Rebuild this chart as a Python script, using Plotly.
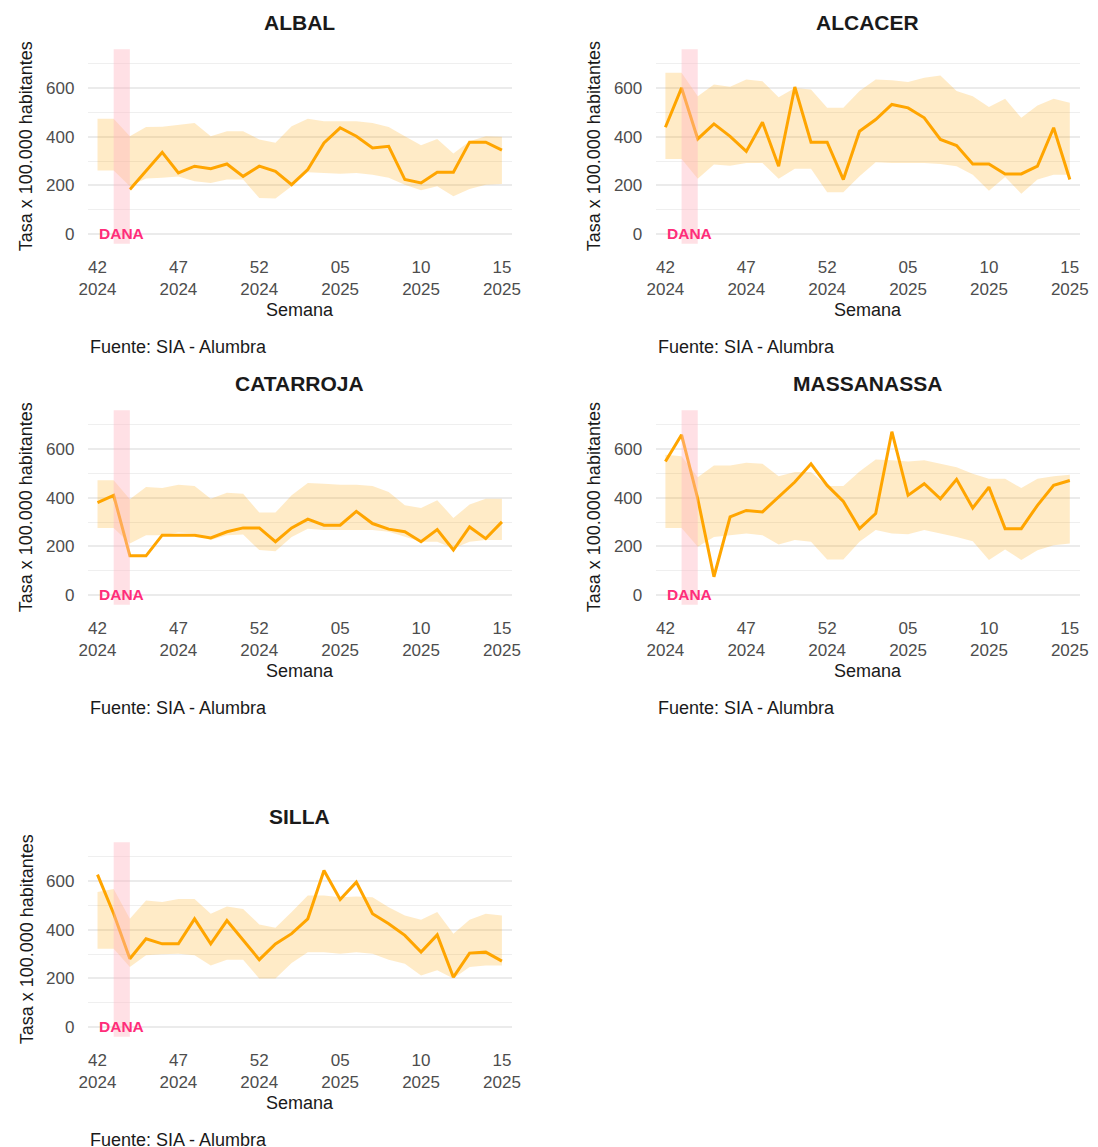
import plotly.graph_objects as go

# Semanas epidemiológicas (eje x)
semanas = ["42", "43", "44", "45", "46", "47", "48", "49", "50", "51", "52",
           "01", "02", "03", "04", "05", "06", "07", "08", "09", "10",
           "11", "12", "13", "14", "15"]
anios = ["2024"] * 11 + ["2025"] * 15
tick_idx = [0, 5, 10, 15, 20, 25]

municipios = ["ALBAL", "ALCACER", "CATARROJA", "MASSANASSA", "SILLA"]

# Tasa x 100.000 habitantes y banda (límite inferior / superior)
albal_tasa = [None, None, 183, 260, 336, 251, 279, 269, 288, 237, 279, 258, 203,
              265, 375, 437, 402, 354, 361, 224, 210, 254, 254, 378, 378, 345]
albal_sup = [474, 474, 402, 440, 441, 450, 457, 402, 423, 423, 389, 375, 443,
             474, 464, 464, 464, 457, 440, 402, 365, 391, 331, 382, 402, 400]
albal_inf = [261, 261, 196, 228, 231, 237, 217, 210, 224, 224, 148, 146, 196,
             254, 251, 248, 251, 244, 231, 203, 180, 196, 155, 185, 203, 206]

alcacer_tasa = [439, 601, 391, 453, 402, 340, 460, 279, 605, 378, 378, 224, 423,
                471, 533, 519, 478, 389, 364, 288, 288, 247, 247, 279, 437, 224]
alcacer_sup = [663, 663, 567, 615, 606, 636, 629, 563, 601, 595, 519, 519, 588,
               636, 633, 625, 643, 652, 588, 567, 523, 556, 478, 529, 556, 540]
alcacer_inf = [309, 309, 227, 286, 281, 292, 292, 227, 268, 268, 172, 172, 238,
               295, 292, 292, 292, 288, 279, 244, 178, 235, 166, 224, 244, 244]

catarroja_tasa = [380, 410, 161, 161, 246, 246, 246, 235, 260, 276, 276, 219, 276,
                  312, 287, 287, 344, 294, 271, 260, 219, 269, 185, 280, 232, 301]
catarroja_sup = [472, 472, 394, 444, 440, 454, 448, 396, 421, 417, 339, 339, 410,
                 461, 458, 454, 454, 448, 424, 369, 358, 390, 317, 372, 396, 396]
catarroja_inf = [276, 276, 212, 246, 246, 257, 253, 226, 246, 249, 185, 180, 239,
                 273, 267, 267, 267, 267, 260, 239, 219, 219, 191, 219, 226, 226]

massanassa_tasa = [549, 659, 396, 75, 321, 348, 342, 403, 465, 540, 451, 385, 273,
                   335, 672, 410, 458, 396, 476, 358, 444, 273, 273, 369, 451, 471]
massanassa_sup = [577, 571, 485, 533, 533, 544, 540, 489, 506, 506, 448, 448, 508,
                  558, 554, 549, 554, 540, 526, 499, 478, 478, 440, 478, 489, 495]
massanassa_inf = [276, 276, 198, 239, 246, 253, 246, 208, 226, 219, 146, 146, 219,
                  267, 253, 250, 267, 253, 239, 221, 144, 187, 144, 184, 205, 212]

silla_tasa = [627, 466, 281, 363, 342, 342, 445, 342, 438, 356, 277, 342, 384,
              445, 644, 525, 596, 466, 425, 377, 308, 379, 205, 304, 308, 271]
silla_sup = [555, 568, 445, 521, 514, 527, 527, 466, 496, 486, 422, 408, 473,
             541, 541, 534, 537, 534, 493, 459, 441, 473, 384, 441, 466, 459]
silla_inf = [322, 322, 247, 295, 299, 301, 295, 253, 277, 277, 199, 199, 263,
             308, 308, 301, 308, 301, 277, 260, 212, 233, 199, 247, 253, 253]

series = [
    (albal_tasa, albal_sup, albal_inf),
    (alcacer_tasa, alcacer_sup, alcacer_inf),
    (catarroja_tasa, catarroja_sup, catarroja_inf),
    (massanassa_tasa, massanassa_sup, massanassa_inf),
    (silla_tasa, silla_sup, silla_inf),
]

PAGE_PAD = 8  # margen por defecto del <body>
W, H = 1098 - 2 * PAGE_PAD, 1147 - PAGE_PAD
FONT = "Liberation Sans, Arial, sans-serif"
NARANJA = "#FFA500"
TXT = "#1A1A1A"

# posiciones de los paneles en píxeles (de la página)
col_x = [80, 657.5]
panel_w = 431
row_off = [0, 361, 793]
panel_top, panel_bot = 49.3, 243.7


def px_x(v):
    return (v - PAGE_PAD) / W


def px_y(v):
    return 1 - (v - PAGE_PAD) / H


def texto(text, x, y, size, **kw):
    d = dict(text=text, x=px_x(x), y=px_y(y), xref="paper", yref="paper",
             xanchor="center", yanchor="middle", showarrow=False,
             font=dict(family=FONT, size=size, color=TXT))
    d.update(kw)
    return d


x = list(range(len(semanas)))
fig = go.Figure()
annotations = []
shapes = []

for k, name in enumerate(municipios):
    tasa, sup, inf = series[k]
    r, c = divmod(k, 2)
    n = "" if k == 0 else str(k + 1)
    xa, ya = "x" + n, "y" + n
    x0 = col_x[c]
    off = row_off[r]

    # banda
    fig.add_trace(go.Scatter(x=x, y=inf, mode="lines", line=dict(width=0),
                             hoverinfo="skip", showlegend=False, xaxis=xa, yaxis=ya))
    fig.add_trace(go.Scatter(x=x, y=sup, mode="lines", line=dict(width=0),
                             fill="tonexty", fillcolor="rgba(255,165,0,0.22)",
                             hoverinfo="skip", showlegend=False, xaxis=xa, yaxis=ya))
    # tasa
    fig.add_trace(go.Scatter(x=x, y=tasa, mode="lines",
                             line=dict(color=NARANJA, width=3),
                             showlegend=False, xaxis=xa, yaxis=ya))

    # DANA
    shapes.append(dict(type="rect", xref=xa, yref=ya + " domain", x0=1, x1=2, y0=0, y1=1,
                       fillcolor="rgba(255,182,193,0.42)", line=dict(width=0), layer="above"))
    annotations.append(dict(text="<b>DANA</b>", x=1.5, y=0, xref=xa, yref=ya,
                            xanchor="center", yanchor="middle", showarrow=False,
                            font=dict(family=FONT, size=15.5, color="#FF2D7A")))

    fig.layout["xaxis" + n] = dict(
        domain=[px_x(x0), px_x(x0 + panel_w)], range=[-0.6, 25.6],
        anchor=ya, tickmode="array", tickvals=tick_idx,
        ticktext=[semanas[i] + "<br>" + anios[i] for i in tick_idx],
        showgrid=False, zeroline=False, showline=False,
        ticks="outside", ticklen=8, tickcolor="rgba(0,0,0,0)",
        tickfont=dict(family=FONT, size=17, color="#4D4D4D"))
    fig.layout["yaxis" + n] = dict(
        domain=[px_y(panel_bot + off), px_y(panel_top + off)], range=[-40, 760],
        anchor=xa, tickmode="array", tickvals=[0, 200, 400, 600],
        showgrid=True, gridcolor="#EBEBEB", gridwidth=1.6,
        minor=dict(tickvals=[100, 300, 500, 700], showgrid=True,
                   gridcolor="#EFEFEF", gridwidth=1.2),
        zeroline=False, showline=False,
        ticks="outside", ticklen=9, tickcolor="rgba(0,0,0,0)",
        tickfont=dict(family=FONT, size=17, color="#4D4D4D"))

    cx = x0 + panel_w / 2
    annotations.append(texto("<b>" + name + "</b>", cx, 23 + off, 21))
    annotations.append(texto("Semana", cx, 310 + off, 18))
    annotations.append(texto("Tasa x 100.000 habitantes", x0 - 62,
                             (panel_top + panel_bot) / 2 + off, 18, textangle=-90))
    annotations.append(texto("Fuente: SIA - Alumbra", x0, 347 + off, 18, xanchor="left"))

fig.update_layout(width=W, height=H, margin=dict(l=0, r=0, t=0, b=0),
                  plot_bgcolor="white", paper_bgcolor="white",
                  annotations=annotations, shapes=shapes, showlegend=False)

fig.write_html("out.html")
